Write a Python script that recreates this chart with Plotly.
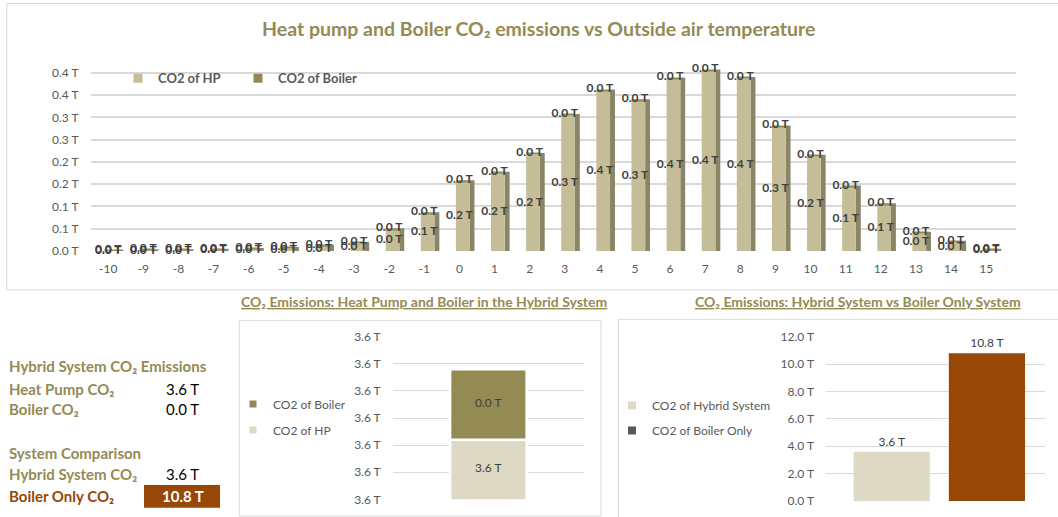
import plotly.graph_objects as go

W, H = 1058, 517


def px(x):
    return x / W


def py(y):
    return 1 - y / H


FONT = "Lato"
OLIVE = "#948A54"
HP_COL = "#C4BD97"
HP_SIDE = "#8B8567"
HP_LIGHT = "#DDD9C4"
BROWN = "#974706"
GRID = "#D9D9D9"
TXT = "#595959"
DARK = "#404040"

# ---------------- data ----------------
temps = list(range(-10, 16))
temp_labels = ["-10", "-9", "-8", "-7", "-6", "-5", "-4", "-3", "-2", "-1", "0", "1", "2",
               "3", "4", "5", "6", "7", "8", "9", "10", "11", "12", "13", "14", "15"]
co2_hp = [0.001, 0.002, 0.002, 0.003, 0.004, 0.006, 0.011, 0.017, 0.048, 0.084,
          0.156, 0.175, 0.217, 0.305, 0.360, 0.338, 0.387, 0.405, 0.388, 0.279,
          0.213, 0.144, 0.104, 0.040, 0.020, 0.003]
co2_boiler = [0.002, 0.002, 0.002, 0.002, 0.003, 0.003, 0.003, 0.003, 0.003, 0.003,
              0.003, 0.003, 0.003, 0.003, 0.003, 0.003, 0.003, 0.003, 0.003, 0.003,
              0.003, 0.003, 0.003, 0.003, 0.003, 0.002]
main_ticks = [0.0, 0.05, 0.10, 0.15, 0.20, 0.25, 0.30, 0.35, 0.40]
main_tick_text = ["0.0 T", "0.1 T", "0.1 T", "0.2 T", "0.2 T", "0.3 T", "0.3 T", "0.4 T", "0.4 T"]

hybrid_cat = ["Hybrid System"]
hybrid_hp = 3.5992
hybrid_boiler = 0.0026
hybrid_ticks = [3.597, 3.598, 3.599, 3.600, 3.601, 3.602, 3.603]

compare_cats = ["CO2 of Hybrid System", "CO2 of Boiler Only"]
compare_values = [3.6, 10.8]
compare_legend_colors = [HP_LIGHT, "#595959"]
compare_bar_colors = [HP_LIGHT, BROWN]

totals = [h + b for h, b in zip(co2_hp, co2_boiler)]

fig = go.Figure()

# ---------------- main chart ----------------
fig.add_trace(go.Bar(x=temps, y=totals, offset=0.29, width=0.14,
                     marker=dict(color=HP_SIDE, line=dict(width=0)),
                     showlegend=False, hoverinfo="skip", xaxis="x", yaxis="y"))
fig.add_trace(go.Bar(x=temps, y=co2_hp, offset=-0.1, width=0.39, name="CO2 of HP",
                     marker=dict(color=HP_COL, line=dict(width=0)),
                     showlegend=False, xaxis="x", yaxis="y"))
fig.add_trace(go.Bar(x=temps, y=co2_boiler, base=co2_hp, offset=-0.1, width=0.39,
                     name="CO2 of Boiler",
                     marker=dict(color=OLIVE, line=dict(width=0)),
                     showlegend=False, xaxis="x", yaxis="y"))
lab_font = dict(family=FONT, size=12, color=DARK, weight="bold")
fig.add_trace(go.Scatter(x=temps, y=[h / 2 for h in co2_hp], mode="text",
                         text=[f"{h:.1f} T" for h in co2_hp], textfont=lab_font,
                         textposition="middle center", cliponaxis=False,
                         showlegend=False, hoverinfo="skip", xaxis="x", yaxis="y"))
fig.add_trace(go.Scatter(x=temps, y=totals, mode="text",
                         text=[f"{b:.1f} T" for b in co2_boiler], textfont=lab_font,
                         textposition="middle center", cliponaxis=False,
                         showlegend=False, hoverinfo="skip", xaxis="x", yaxis="y"))
for name, col in [("CO2 of HP", HP_COL), ("CO2 of Boiler", OLIVE)]:
    fig.add_trace(go.Scatter(x=[None], y=[None], mode="markers", name=f"<b>{name}</b>",
                             marker=dict(symbol="square", size=9, color=col),
                             legend="legend", xaxis="x", yaxis="y"))

# ---------------- middle chart ----------------
fig.add_trace(go.Bar(x=hybrid_cat, y=[hybrid_hp], width=0.4,
                     marker=dict(color=HP_LIGHT, line=dict(color="white", width=2.5)),
                     showlegend=False, hoverinfo="skip", xaxis="x2", yaxis="y2"))
fig.add_trace(go.Bar(x=hybrid_cat, y=[hybrid_boiler], base=[hybrid_hp], width=0.4,
                     marker=dict(color=OLIVE, line=dict(color="white", width=2.5)),
                     showlegend=False, hoverinfo="skip", xaxis="x2", yaxis="y2"))
mid_font = dict(family=FONT, size=12, color=DARK)
fig.add_trace(go.Scatter(x=hybrid_cat * 2,
                         y=[(hybrid_ticks[0] + hybrid_hp) / 2, hybrid_hp + hybrid_boiler / 2],
                         mode="text", text=[f"{hybrid_hp:.1f} T", f"{hybrid_boiler:.1f} T"],
                         textfont=mid_font, showlegend=False, hoverinfo="skip",
                         xaxis="x2", yaxis="y2"))
for i, (name, col) in enumerate([("CO2 of Boiler", OLIVE), ("CO2 of HP", HP_LIGHT)]):
    fig.add_trace(go.Scatter(x=[None], y=[None], mode="markers", name=name,
                             legendgroup=f"m{i}",
                             marker=dict(symbol="square", size=7, color=col),
                             legend="legend2", xaxis="x2", yaxis="y2"))

# ---------------- right chart ----------------
fig.add_trace(go.Bar(x=compare_cats, y=compare_values, width=0.8,
                     marker=dict(color=compare_bar_colors, line=dict(width=0)),
                     text=[f"{v:.1f} T" for v in compare_values], textposition="outside",
                     textfont=mid_font, cliponaxis=False,
                     showlegend=False, hoverinfo="skip", xaxis="x3", yaxis="y3"))
for i, (name, col) in enumerate(zip(compare_cats, compare_legend_colors)):
    fig.add_trace(go.Scatter(x=[None], y=[None], mode="markers", name=name,
                             legendgroup=f"r{i}",
                             marker=dict(symbol="square", size=8, color=col),
                             legend="legend3", xaxis="x3", yaxis="y3"))

tick_font = dict(family=FONT, size=12, color=TXT)

fig.update_layout(
    width=W, height=H, autosize=False,
    margin=dict(l=0, r=0, t=0, b=0, autoexpand=False),
    paper_bgcolor="white", plot_bgcolor="white",
    font=dict(family=FONT, color=TXT),
    barmode="overlay",
    xaxis=dict(domain=[px(90.65), px(1016)], range=[-10.5, 15.85],
               tickmode="array", tickvals=temps, ticktext=temp_labels,
               showgrid=False, zeroline=False,
               showline=False, tickfont=tick_font, ticklabelstandoff=9, fixedrange=True),
    yaxis=dict(domain=[py(251), py(68.5)], range=[0, 0.41],
               tickmode="array", tickvals=main_ticks, ticktext=main_tick_text,
               showgrid=True, gridcolor=GRID, gridwidth=1.5, zeroline=False,
               showline=False, tickfont=tick_font, ticklabelstandoff=11, fixedrange=True),
    xaxis2=dict(domain=[px(392.7), px(584)], range=[-0.5, 0.5], anchor="y2",
                showticklabels=False, showgrid=False, zeroline=False, showline=False,
                fixedrange=True),
    yaxis2=dict(domain=[py(499.3), py(336.7)], range=[hybrid_ticks[0], hybrid_ticks[-1]],
                anchor="x2", tickmode="array", tickvals=hybrid_ticks,
                ticktext=[f"{v:.1f} T" for v in hybrid_ticks],
                showgrid=True, gridcolor=GRID, gridwidth=1.3, zeroline=False,
                showline=False, tickfont=tick_font, ticklabelstandoff=11, fixedrange=True),
    xaxis3=dict(domain=[px(826), px(1045)], range=[-0.69, 1.61], anchor="y3",
                showticklabels=False, showgrid=False, zeroline=False, showline=False,
                fixedrange=True),
    yaxis3=dict(domain=[py(501), py(336.7)], range=[0, 12], anchor="x3",
                tickmode="linear", tick0=0, dtick=2, tickformat=".1f", ticksuffix=" T",
                showgrid=True, gridcolor=GRID, gridwidth=1.3, zeroline=False,
                showline=False, tickfont=tick_font, ticklabelstandoff=11, fixedrange=True),
    legend=dict(orientation="h", x=px(118), y=py(78.4), xanchor="left", yanchor="middle",
                font=dict(family=FONT, size=13, color=TXT),
                bgcolor="rgba(0,0,0,0)", entrywidth=75, itemclick=False,
                itemdoubleclick=False),
    legend2=dict(orientation="v", x=px(233), y=py(417), xanchor="left", yanchor="middle",
                 font=dict(family=FONT, size=12, color=TXT), bgcolor="rgba(0,0,0,0)",
                 tracegroupgap=7, traceorder="grouped", itemclick=False,
                 itemdoubleclick=False),
    legend3=dict(orientation="v", x=px(612), y=py(418), xanchor="left", yanchor="middle",
                 font=dict(family=FONT, size=12, color=TXT), bgcolor="rgba(0,0,0,0)",
                 tracegroupgap=6, traceorder="grouped", itemclick=False,
                 itemdoubleclick=False),
)

shapes = [
    dict(type="rect", xref="paper", yref="paper", x0=px(6.8), x1=px(1070), y0=py(290), y1=py(3.4),
         line=dict(color=GRID, width=1), fillcolor="rgba(0,0,0,0)", layer="below"),
    dict(type="rect", xref="paper", yref="paper", x0=px(239.3), x1=px(601), y0=py(516), y1=py(320.7),
         line=dict(color=GRID, width=1), fillcolor="rgba(0,0,0,0)", layer="below"),
    dict(type="rect", xref="paper", yref="paper", x0=px(618.3), x1=px(1070), y0=py(530), y1=py(319.3),
         line=dict(color=GRID, width=1), fillcolor="rgba(0,0,0,0)", layer="below"),
    dict(type="rect", xref="paper", yref="paper", x0=px(144), x1=px(220), y0=py(507.7), y1=py(485),
         line=dict(width=0), fillcolor=BROWN, layer="below"),
]
fig.update_layout(shapes=shapes)

ann = []
ann.append(dict(text="Heat pump and Boiler CO₂ emissions vs Outside air temperature",
                x=px(538), y=py(28.7), xanchor="center", yanchor="middle",
                font=dict(family=FONT, size=19.5, color=OLIVE, weight="bold")))
ann.append(dict(text="<u>CO₂ Emissions: Heat Pump and Boiler in the Hybrid System</u>",
                x=px(424), y=py(301.7), xanchor="center", yanchor="middle",
                font=dict(family=FONT, size=14, color=OLIVE, weight="bold")))
ann.append(dict(text="<u>CO₂ Emissions: Hybrid System vs Boiler Only System</u>",
                x=px(857.5), y=py(301.7), xanchor="center", yanchor="middle",
                font=dict(family=FONT, size=14, color=OLIVE, weight="bold")))

lab = dict(family=FONT, size=15, color=OLIVE, weight="bold")
val = dict(family=FONT, size=15, color="black")
rows = [
    ("Hybrid System CO₂ Emissions", 366, None, lab, val),
    ("Heat Pump CO₂", 388.7, hybrid_hp, lab, val),
    ("Boiler CO₂", 409, hybrid_boiler, lab, val),
    ("System Comparison", 453, None, lab, val),
    ("Hybrid System CO₂", 474.3, compare_values[0], lab, val),
    ("Boiler Only CO₂", 496, compare_values[1],
     dict(family=FONT, size=15, color=BROWN, weight="bold"),
     dict(family=FONT, size=15, color="white", weight="bold")),
]
for text, yy, v, f1, f2 in rows:
    ann.append(dict(text=text, x=px(6.7), y=py(yy), xanchor="left", yanchor="middle", font=f1))
    if v is not None:
        ann.append(dict(text=f"{v:.1f} T", x=px(182.5), y=py(yy), xanchor="center",
                        yanchor="middle", font=f2))
for a in ann:
    a.update(xref="paper", yref="paper", showarrow=False)
fig.update_layout(annotations=ann)

fig.write_html("out.html", config={"displayModeBar": False},
               post_script="document.body.style.margin='0';document.body.style.overflow='hidden';")
